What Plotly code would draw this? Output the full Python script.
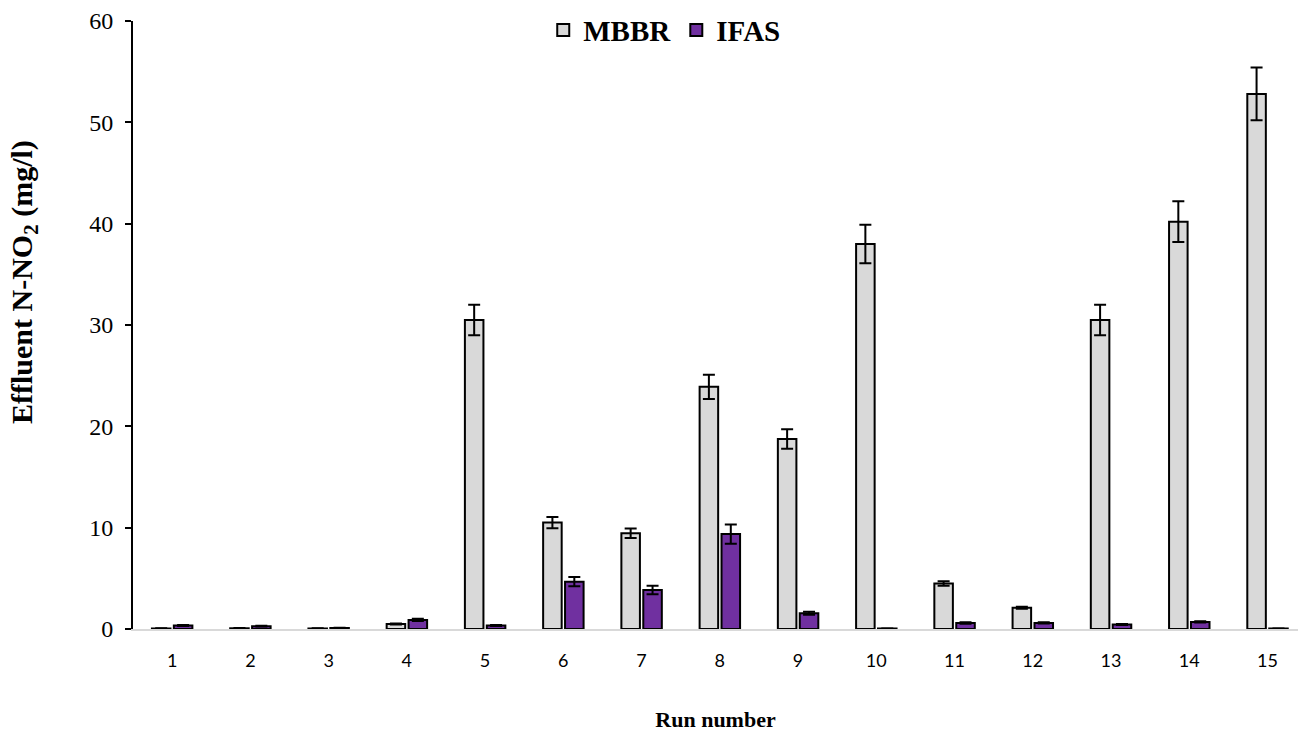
import plotly.graph_objects as go

runs = list(range(1, 16))
run_labels = [str(r) for r in runs]

mbbr = [0.05, 0.07, 0.05, 0.5, 30.5, 10.5, 9.45, 23.9, 18.75, 38.0, 4.5, 2.1, 30.5, 40.2, 52.8]
mbbr_err = [0.02, 0.02, 0.02, 0.05, 1.5, 0.55, 0.47, 1.2, 0.95, 1.9, 0.22, 0.1, 1.5, 2.0, 2.6]

ifas = [0.35, 0.28, 0.1, 0.9, 0.35, 4.67, 3.85, 9.37, 1.55, 0.05, 0.6, 0.6, 0.45, 0.7, 0.05]
ifas_err = [0.05, 0.04, 0.02, 0.1, 0.05, 0.45, 0.41, 0.95, 0.15, 0.01, 0.07, 0.06, 0.05, 0.07, 0.01]

bar_w = 0.237

fig = go.Figure()
fig.add_trace(go.Bar(
    x=runs, y=mbbr, name="MBBR",
    width=bar_w, offset=-0.258,
    marker=dict(color="#D9D9D9", line=dict(color="black", width=2)),
    error_y=dict(type="data", array=mbbr_err, color="black", thickness=2, width=6),
))
fig.add_trace(go.Bar(
    x=runs, y=ifas, name="IFAS",
    width=bar_w, offset=0.022,
    marker=dict(color="#7030A0", line=dict(color="black", width=2)),
    error_y=dict(type="data", array=ifas_err, color="black", thickness=2, width=6),
))

fig.update_layout(
    width=1298, height=735,
    margin=dict(l=133, r=0, t=21, b=106),
    plot_bgcolor="white", paper_bgcolor="white",
    showlegend=True,
    legend=dict(orientation="h", x=0.456, xanchor="center", y=0.985, yanchor="middle",
                font=dict(family="Liberation Serif", size=29, color="black", weight="bold"),
                bgcolor="rgba(0,0,0,0)", itemwidth=30, traceorder="normal"),
    font=dict(family="Liberation Serif", color="black"),
)
fig.add_annotation(
    text="<b>Effluent N-NO<sub>2</sub> (mg/l)</b>",
    xref="paper", yref="paper", x=(24 - 133) / 1165, y=(629 - 282) / 608,
    xanchor="center", yanchor="middle", textangle=-90, showarrow=False,
    font=dict(family="Liberation Serif", size=30, color="black"),
)
fig.update_xaxes(
    range=[0.5, 15.39], tickmode="array", tickvals=runs, ticktext=run_labels,
    showline=True, linecolor="#D9D9D9", linewidth=2, showgrid=False, zeroline=False,
    ticks="", ticklabelstandoff=14, tickfont=dict(family="Lato", size=18, color="black"),
    title=dict(text="Run number", font=dict(family="Liberation Serif", size=22, weight="bold"),
               standoff=42),
)
fig.update_yaxes(
    range=[0, 60], tickmode="array", tickvals=[0, 10, 20, 30, 40, 50, 60],
    showline=True, linecolor="black", linewidth=2, showgrid=False, zeroline=False,
    ticks="outside", ticklen=6, tickwidth=2, tickcolor="black", ticklabelstandoff=7,
    tickfont=dict(family="Liberation Serif", size=24, color="black"),
)

fig.write_html("out.html")
